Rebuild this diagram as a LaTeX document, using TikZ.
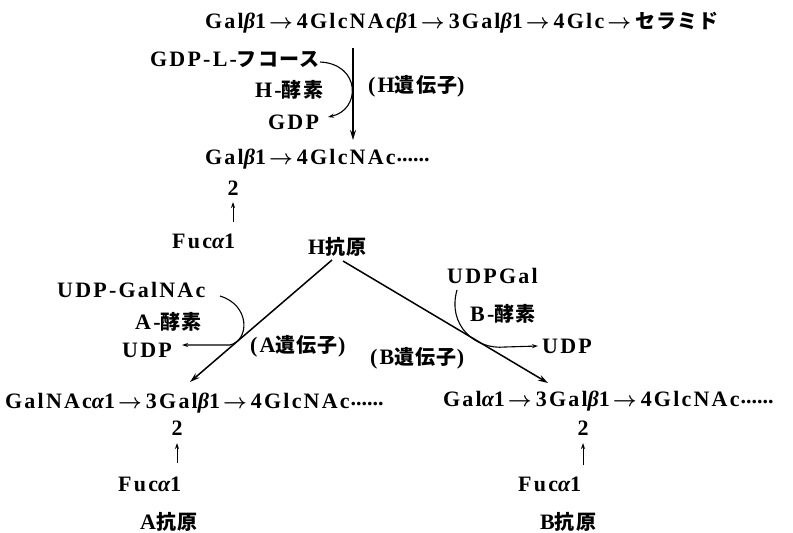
\documentclass[tikz,border=0pt]{standalone}
\usepackage{fontspec}
\usepackage{graphicx}
\setmainfont{Liberation Serif}[LetterSpace=10]
\newfontfamily\jp{Noto Sans CJK JP}[LetterSpace=6]
\usetikzlibrary{arrows.meta}
\newcommand\myalpha{{\itshape α}}
\newcommand\mybeta{{\itshape β}}
\newcommand\ra{\kern3pt{\boldmath$\rightarrow$}\kern4pt}
\newcommand\sixdots{\kern1pt\raisebox{2.5pt}{\makebox[30pt][s]{.\hfil.\hfil.\hfil.\hfil.\hfil.}}}
\newcommand\J[1]{{\jp\fontsize{20}{24}\selectfont #1}}
\begin{document}
\begin{tikzpicture}[x=1pt,y=-1pt,
  txt/.style={inner sep=0pt, anchor=base west, font=\fontsize{22}{26}\selectfont\bfseries},
  ctxt/.style={inner sep=0pt, anchor=base, font=\fontsize{22}{26}\selectfont\bfseries},
  conn/.style={line width=1.5pt, -{Stealth[length=10pt,width=6pt]}},
  curvearrow/.style={line width=1.1pt, -{Stealth[length=6pt,width=4pt]}},
  uparrow/.style={line width=1pt, -{Stealth[length=6pt,width=4pt]}}]
\useasboundingbox (0,0) rectangle (793,533);
% texts
\node[txt] (top) at (205,28) {Gal\mybeta1\ra4GlcNAc\mybeta1\ra3Gal\mybeta1\ra4Glc\ra\J{セラミド}};
\node[txt] (gdpfuc) at (150,66) {GDP-L-\J{フコース}};
\node[txt] (henz) at (255,97) {H-\J{酵素}};
\node[txt] (gdp) at (268,129) {GDP};
\node[txt] (hgene) at (368,92) {(H\J{遺伝子})};
\node[txt] (mid) at (205,164) {Gal\mybeta1\ra4GlcNAc\sixdots};
\node[ctxt] (two1) at (233,195) {2};
\node[txt] (fuc1) at (172,248) {Fuc\myalpha1};
\node[txt] (hant) at (308,254) {H\J{抗原}};
\node[txt] (udpgalnac) at (57,297) {UDP-GalNAc};
\node[txt] (aenz) at (135,329) {A-\J{酵素}};
\node[txt] (udpa) at (122,357) {UDP};
\node[txt] (agene) at (250,352) {(A\J{遺伝子})};
\node[txt] (bgene) at (370,364) {(B\J{遺伝子})};
\node[txt] (udpgal) at (447,283) {UDPGal};
\node[txt] (benz) at (470,321) {B-\J{酵素}};
\node[txt] (udpb) at (542,353) {UDP};
\node[txt] (achain) at (5,408) {GalNAc\myalpha1\ra3Gal\mybeta1\ra4GlcNAc\sixdots};
\node[ctxt] (two2) at (177,435) {2};
\node[txt] (fuc2) at (118,491) {Fuc\myalpha1};
\node[txt] (aant) at (140,529) {A\J{抗原}};
\node[txt] (bchain) at (443,406) {Gal\myalpha1\ra3Gal\mybeta1\ra4GlcNAc\sixdots};
\node[ctxt] (two3) at (583,435) {2};
\node[txt] (fuc3) at (518,491) {Fuc\myalpha1};
\node[txt] (bant) at (540,529) {B\J{抗原}};
% coordinates
\coordinate (hs) at (353,48);
\coordinate (he) at (353,140);
\coordinate (hc1) at (320,62);
\coordinate (hc2) at (328,117);
\coordinate (as) at (332,260);
\coordinate (ae) at (190,382);
\coordinate (bs) at (343,261);
\coordinate (be) at (548,383);
\coordinate (ac1) at (220,296);
\coordinate (ac2) at (182,345);
\coordinate (bc1) at (457,290);
\coordinate (bc2) at (538,346);
\coordinate (u1s) at (233,222);
\coordinate (u1e) at (233,202);
\coordinate (u2s) at (177,463);
\coordinate (u2e) at (177,443);
\coordinate (u3s) at (583,465);
\coordinate (u3e) at (583,443);
% connectors
\draw[conn] (hs) -- (he);
\draw[curvearrow] (hc1) .. controls (361,64) and (361,110) .. (hc2);
\draw[conn] (as) -- (ae);
\draw[conn] (bs) -- (be);
\draw[curvearrow] (ac1) .. controls (250,305) and (250,340) .. (230,345) -- (ac2);
\draw[curvearrow] (bc1) .. controls (447,325) and (475,350) .. (505,347) -- (bc2);
\draw[uparrow] (u1s) -- (u1e);
\draw[uparrow] (u2s) -- (u2e);
\draw[uparrow] (u3s) -- (u3e);
\end{tikzpicture}
\end{document}
